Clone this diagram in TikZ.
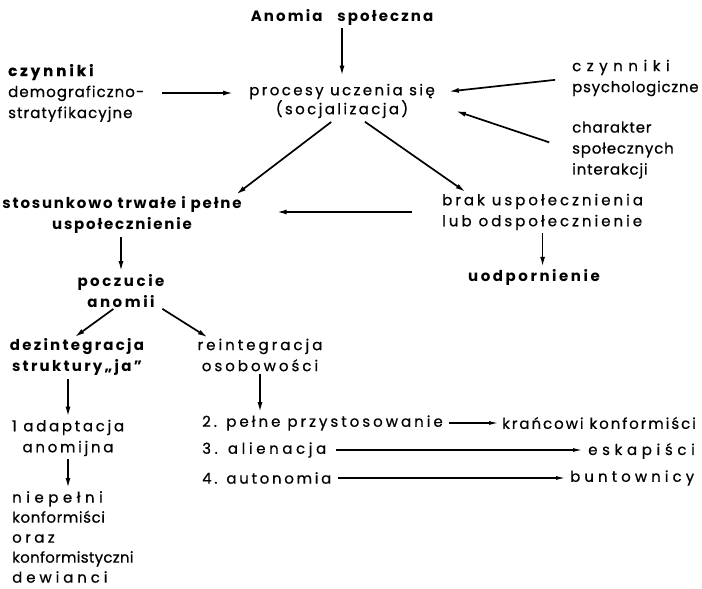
\documentclass[tikz,border=0pt]{standalone}
\usepackage{fontspec}
\setmainfont{Poppins}
\usetikzlibrary{arrows.meta}
\newcommand\lsp[2]{{\addfontfeature{LetterSpace=#1}#2}}
\begin{document}
\begin{tikzpicture}[x=1pt,y=-1pt,
    sp/.style={inner sep=0pt,font=\fontsize{15}{21}\selectfont\addfontfeatures{LetterSpace=#1,FakeBold=0.6}},
    bsp/.style={inner sep=0pt,font=\fontsize{15}{21}\selectfont\bfseries\addfontfeature{LetterSpace=#1}},
    lft/.style={align=left,anchor=west},
    ctr/.style={align=center},
    arr/.style={line width=1.7pt,-{Latex[length=10pt,width=5pt]}},
    rowarr/.style={line width=1.1pt,-{Latex[length=9pt,width=4pt]}}]
  \useasboundingbox (0,0) rectangle (702,589);
  \node[bsp=14,ctr] (anomia) at (342,17) {Anomia\quad społeczna};
  \node[inner sep=0pt,ctr,font=\fontsize{15}{17}\selectfont\addfontfeatures{LetterSpace=16,FakeBold=0.6}] (proc) at (342,101) {procesy uczenia się\\(socjalizacja)};
  \node[sp=7,lft] (demog) at (8,93) {{\bfseries\addfontfeature{LetterSpace=20}czynniki}\\demograficzno-\\stratyfikacyjne};
  \node[sp=5,lft] (psych) at (572,78) {\lsp{37}{czynniki}\\psychologiczne};
  \node[sp=5.5,lft] (charakt) at (572,150) {charakter\\społecznych\\interakcji};
  \node[bsp=12,ctr] (trwale) at (122,215) {stosunkowo trwałe i pełne\\uspołecznienie};
  \node[sp=20,lft] (brak) at (442,212) {brak uspołecznienia\\lub odspołecznienie};
  \node[bsp=17,ctr] (uodp) at (534,277) {uodpornienie};
  \node[bsp=17,ctr] (poczucie) at (121,291) {poczucie\\anomii};
  \node[bsp=15,ctr] (dezint) at (77,357) {dezintegracja\\struktury„ja”};
  \node[sp=20,ctr] (reint) at (260,355) {reintegracja\\osobowości};
  \node[sp=18,ctr] (adapt) at (68,438) {1 adaptacja\\anomijna};
  \node[sp=0,lft,font=\fontsize{15}{20}\selectfont\addfontfeature{FakeBold=0.6}] (niep) at (12,537) {\lsp{30}{niepełni}\\\lsp{4}{konformiści}\\\lsp{23}{oraz}\\\lsp{2}{konformistyczni}\\\lsp{26}{dewianci}};
  \node[sp=20,lft] (row2) at (202,423) {2. pełne przystosowanie};
  \node[sp=13,lft] (kranc) at (502,423) {krańcowi konformiści};
  \node[sp=24,lft] (row3) at (202,450) {3. alienacja};
  \node[sp=31,lft] (eskap) at (588,451) {eskapiści};
  \node[sp=18,lft] (row4) at (202,478) {4. autonomia};
  \node[sp=27,lft] (bunt) at (570,478) {buntownicy};
  \draw[arr,shorten <=3pt,shorten >=8pt] (anomia) -- (proc);
  \draw[arr,shorten <=18pt,shorten >=16pt] (demog.east) -- (demog.east -| proc.west);
  \draw[arr,shorten <=17pt,shorten >=14pt] (psych.west) -- ([yshift=8pt]proc.east);
  \draw[arr,shorten <=24pt,shorten >=22pt] (charakt.west) -- ([yshift=-3pt]proc.east);
  \draw[arr,shorten <=6pt,shorten >=3pt] ([xshift=-6pt]proc.south) -- ([xshift=-8pt]trwale.north east);
  \draw[arr,shorten <=6pt,shorten >=3pt] ([xshift=18pt]proc.south) -- ([xshift=26pt]brak.north west);
  \draw[arr,shorten <=30pt,shorten >=35pt] (brak.west) -- (brak.west -| trwale.east);
  \draw[arr,shorten <=3pt,shorten >=3pt] (trwale.south -| poczucie.north) -- (poczucie.north);
  \draw[arr,shorten <=3pt,shorten >=2pt] (brak.south) -- (brak.south |- uodp.north);
  \draw[arr,shorten <=2pt,shorten >=2pt] ([xshift=-6pt]poczucie.south) -- ([xshift=-4pt]dezint.north);
  \draw[arr,shorten <=2pt,shorten >=2pt] ([xshift=-4pt]poczucie.south east) -- ([xshift=12pt]reint.north west);
  \draw[arr,shorten <=3pt,shorten >=3pt] (adapt.north |- dezint.south) -- (adapt.north);
  \draw[arr,shorten <=3pt,shorten >=3pt] (reint.south) -- (reint.south |- row2.north);
  \draw[arr,shorten <=3pt,shorten >=3pt] (adapt.south) -- (adapt.south |- niep.north);
  \draw[rowarr,shorten <=6pt,shorten >=4pt] (row2.east) -- (kranc.west);
  \draw[rowarr,shorten <=10pt,shorten >=6pt] (row3.east) -- (row3.east -| eskap.west);
  \draw[rowarr,shorten <=6pt,shorten >=5pt] (row4.east) -- (row4.east -| bunt.west);
\end{tikzpicture}
\end{document}
